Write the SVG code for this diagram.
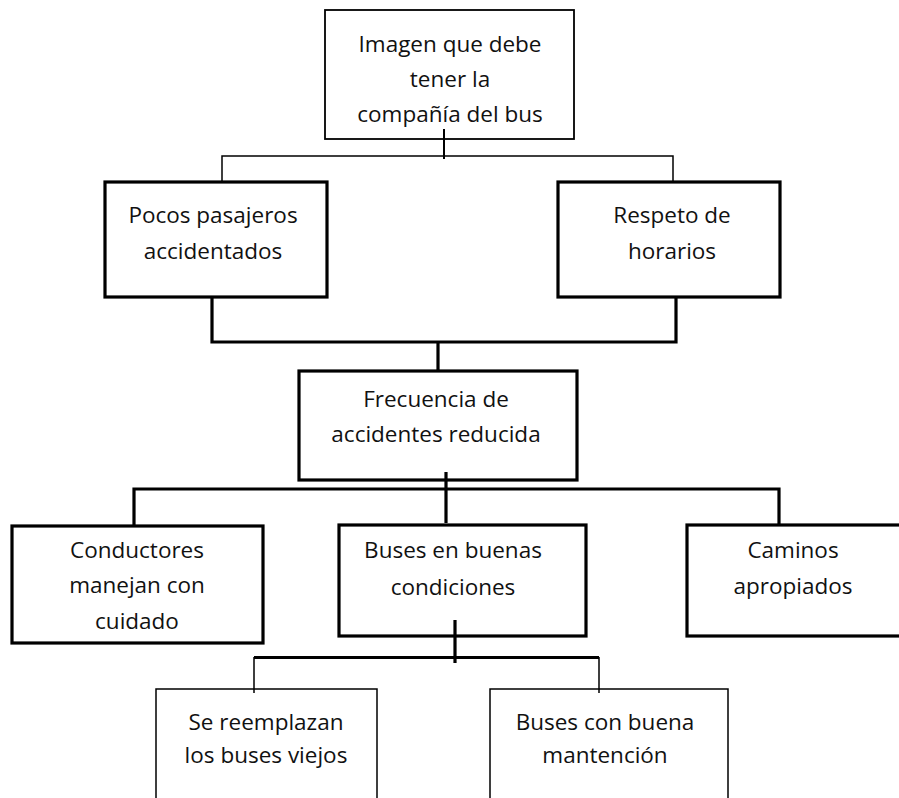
<svg xmlns="http://www.w3.org/2000/svg" width="899" height="798" viewBox="0 0 899 798">
<style>
.thin{fill:none;stroke:#000;stroke-width:1.5}
.thick{fill:none;stroke:#000;stroke-width:3.2}
.box{fill:#fff;stroke:#000;stroke-width:3.2}
.tbox{fill:#fff;stroke:#000;stroke-width:1.8}
text{font-family:"Open Sans","Noto Sans",sans-serif;font-size:22.5px;fill:#111;text-anchor:middle}
</style>
<rect width="899" height="798" fill="#fff"/>
<g id="n1"><rect class="tbox" x="325" y="10" width="249" height="129"/>
<text x="450" y="52">Imagen que debe</text><text x="450" y="87">tener la</text><text x="450" y="122">compañía del bus</text></g>
<g id="n2"><rect class="box" x="105" y="182" width="222" height="115"/>
<text x="213" y="223">Pocos pasajeros</text><text x="213" y="259">accidentados</text></g>
<g id="n3"><rect class="box" x="558" y="182" width="222" height="115"/>
<text x="672" y="223">Respeto de</text><text x="672" y="259">horarios</text></g>
<g id="n4"><rect class="box" x="299" y="371" width="278" height="109"/>
<text x="436" y="407">Frecuencia de</text><text x="436" y="442">accidentes reducida</text></g>
<g id="n5"><rect class="box" x="12" y="526" width="251" height="117"/>
<text x="137" y="558">Conductores</text><text x="137" y="593">manejan con</text><text x="137" y="629">cuidado</text></g>
<g id="n6"><rect class="box" x="339" y="525" width="247" height="111"/>
<text x="453" y="558">Buses en buenas</text><text x="453" y="595">condiciones</text></g>
<g id="n7"><rect class="box" x="687" y="525" width="230" height="111"/>
<text x="793" y="558">Caminos</text><text x="793" y="594">apropiados</text></g>
<g id="n8"><path class="thin" d="M156,800 V689 H377 V800"/>
<text x="266" y="730">Se reemplazan</text><text x="266" y="763">los buses viejos</text></g>
<g id="n9"><path class="thin" d="M490,800 V689 H728 V800"/>
<text x="605" y="730">Buses con buena</text><text x="605" y="763">mantención</text></g>
<g id="connectors">
<path class="thin" d="M444,129 V159" style="stroke-width:2"/>
<path class="thin" d="M222,183 V156 H673 V183"/>
<path class="thick" d="M212,297 V342 H676 V297"/>
<path class="thick" d="M438,342 V371"/>
<path class="thick" d="M446,472 V523"/>
<path class="thick" d="M134,526 V489 H779 V525"/>
<path class="thick" d="M455,620 V663"/>
<path class="thick" d="M254,657.5 H599"/>
<path class="thin" d="M254,657 V693 M599,657 V693"/>
</g>
</svg>
